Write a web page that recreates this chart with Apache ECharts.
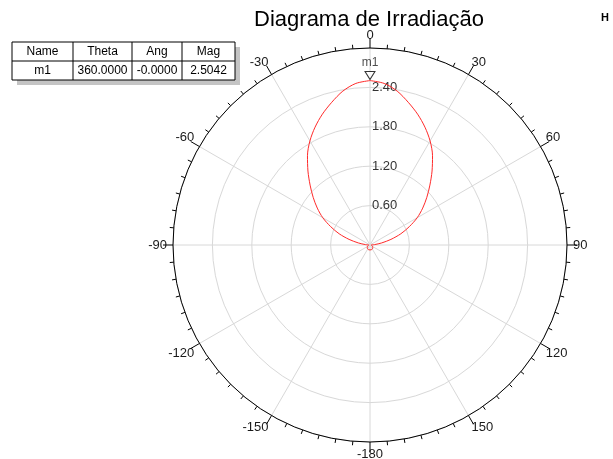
<!DOCTYPE html>
<html>
<head>
<meta charset="utf-8">
<script src="https://cdn.jsdelivr.net/npm/echarts@6/dist/echarts.min.js"></script>
<style>
  html, body { margin: 0; padding: 0; background: #fff; }
  #chart { width: 613px; height: 459px; }
</style>
</head>
<body>
<div id="chart"></div>
<script>
// Radiation pattern samples: theta in degrees (clockwise from 0 at top), magnitude
const thetaDeg = [0, 5, 10, 15, 20, 25, 30, 35, 40, 45, 50, 55, 60, 65, 70, 75, 80, 85, 90,
  105, 120, 135, 150, 165, 180, 195, 210, 225, 240, 255, 270,
  275, 280, 285, 290, 295, 300, 305, 310, 315, 320, 325, 330, 335, 340, 345, 350, 355, 360];
const magnitude = [2.504, 2.47, 2.38, 2.25, 2.12, 1.98, 1.83, 1.66, 1.47, 1.29, 1.13, 0.98, 0.83, 0.66, 0.50, 0.33, 0.18, 0.07, 0.02,
  0.03, 0.045, 0.06, 0.07, 0.075, 0.075, 0.075, 0.07, 0.06, 0.045, 0.03, 0.02,
  0.07, 0.18, 0.33, 0.50, 0.66, 0.83, 0.98, 1.13, 1.29, 1.47, 1.66, 1.83, 1.98, 2.12, 2.25, 2.38, 2.47, 2.504];

// Marker table
const tableHeaders = ['Name', 'Theta', 'Ang', 'Mag'];
const markerName = 'm1';
const markerTheta = 360.0;
const markerAng = -0.0;
const markerMag = 2.5042;

// Axis settings
const radiusTicks = [0.60, 1.20, 1.80, 2.40];
const radiusMax = 3.0;
const angleStep = 30;

const patternData = thetaDeg.map((t, i) => [magnitude[i], t]);

// keeps the sign of negative zero, e.g. -0.0000
function fmt4(v) {
  const s = Math.abs(v).toFixed(4);
  return (v < 0 || Object.is(v, -0)) ? '-' + s : s;
}

const chart = echarts.init(document.getElementById('chart'));

// table geometry
const colX = [12, 73, 132, 182, 235];
const rowY = [42, 61, 80];
const tableRow = [markerName, fmt4(markerTheta), fmt4(markerAng), fmt4(markerMag)];
const cellFont = '12px "Liberation Sans", Arial';
const tableGraphics = [];
tableGraphics.push({ type: 'rect', shape: { x: colX[0] + 5, y: rowY[0] + 5, width: colX[4] - colX[0], height: rowY[2] - rowY[0] }, style: { fill: '#c4c4c4' } });
tableGraphics.push({ type: 'rect', shape: { x: colX[0], y: rowY[0], width: colX[4] - colX[0], height: rowY[2] - rowY[0] }, style: { fill: '#fff', stroke: '#000', lineWidth: 1 } });
tableGraphics.push({ type: 'line', shape: { x1: colX[0], y1: rowY[1], x2: colX[4], y2: rowY[1] }, style: { stroke: '#000', lineWidth: 1 } });
for (let c = 1; c < 4; c++) {
  tableGraphics.push({ type: 'line', shape: { x1: colX[c], y1: rowY[0], x2: colX[c], y2: rowY[2] }, style: { stroke: '#000', lineWidth: 1 } });
}
for (let c = 0; c < 4; c++) {
  const cx = (colX[c] + colX[c + 1]) / 2;
  tableGraphics.push({ type: 'text', x: cx, y: (rowY[0] + rowY[1]) / 2, style: { text: tableHeaders[c], font: cellFont, fill: '#000', align: 'center', verticalAlign: 'middle' } });
  tableGraphics.push({ type: 'text', x: cx, y: (rowY[1] + rowY[2]) / 2, style: { text: tableRow[c], font: cellFont, fill: '#000', align: 'center', verticalAlign: 'middle' } });
}

chart.setOption({
  animation: false,
  backgroundColor: '#ffffff',
  title: {
    text: 'Diagrama de Irradiação',
    left: 364, top: 4, textAlign: 'center',
    textStyle: { fontFamily: '"Liberation Sans", Arial', fontSize: 22, fontWeight: 'normal', color: '#000' }
  },
  graphic: tableGraphics.concat([
    { type: 'text', x: 601, y: 12, style: { text: 'H', font: 'bold 11px "Liberation Sans", Arial', fill: '#000' } }
  ]),
  polar: { center: [370, 245], radius: 197 },
  angleAxis: {
    type: 'value', min: 0, max: 360, interval: angleStep,
    startAngle: 90, clockwise: true,
    axisLine: { show: true, lineStyle: { color: '#000', width: 1 } },
    axisTick: { show: true, inside: false, length: 10, lineStyle: { color: '#000' } },
    minorTick: { show: true, splitNumber: 6, length: 4, lineStyle: { color: '#000' } },
    axisLabel: {
      margin: 6, color: '#1a1a1a', fontSize: 13, fontFamily: '"Liberation Sans", Arial',
      formatter: v => (v === 360 ? '' : String(v > 180 ? v - 360 : (v === 180 ? -180 : v)))
    },
    splitLine: { show: true, lineStyle: { color: '#d8d8d8', width: 1 } }
  },
  radiusAxis: {
    type: 'value', min: 0, max: radiusMax, interval: 0.6,
    axisLine: { show: false }, axisTick: { show: false },
    axisLabel: {
      show: true, align: 'left', margin: -2, color: '#333', fontSize: 13, fontFamily: '"Liberation Sans", Arial',
      formatter: v => (radiusTicks.some(t => Math.abs(t - v) < 1e-6) ? v.toFixed(2) : '')
    },
    splitLine: { show: true, lineStyle: { color: '#d8d8d8', width: 1 } }
  },
  series: [
    {
      type: 'line', coordinateSystem: 'polar', data: patternData,
      showSymbol: false, smooth: 0.3,
      lineStyle: { color: '#ff2a2a', width: 1 }, z: 5
    },
    {
      type: 'scatter', coordinateSystem: 'polar',
      data: [[markerMag, markerTheta]],
      symbol: 'triangle', symbolRotate: 180, symbolSize: [10, 8], symbolOffset: [0, -5],
      itemStyle: { color: '#fff', borderColor: '#000', borderWidth: 1 },
      label: { show: true, formatter: markerName, position: 'top', distance: 2, color: '#222', fontSize: 12, fontFamily: '"Liberation Sans", Arial' },
      z: 6
    }
  ]
});
</script>
</body>
</html>
